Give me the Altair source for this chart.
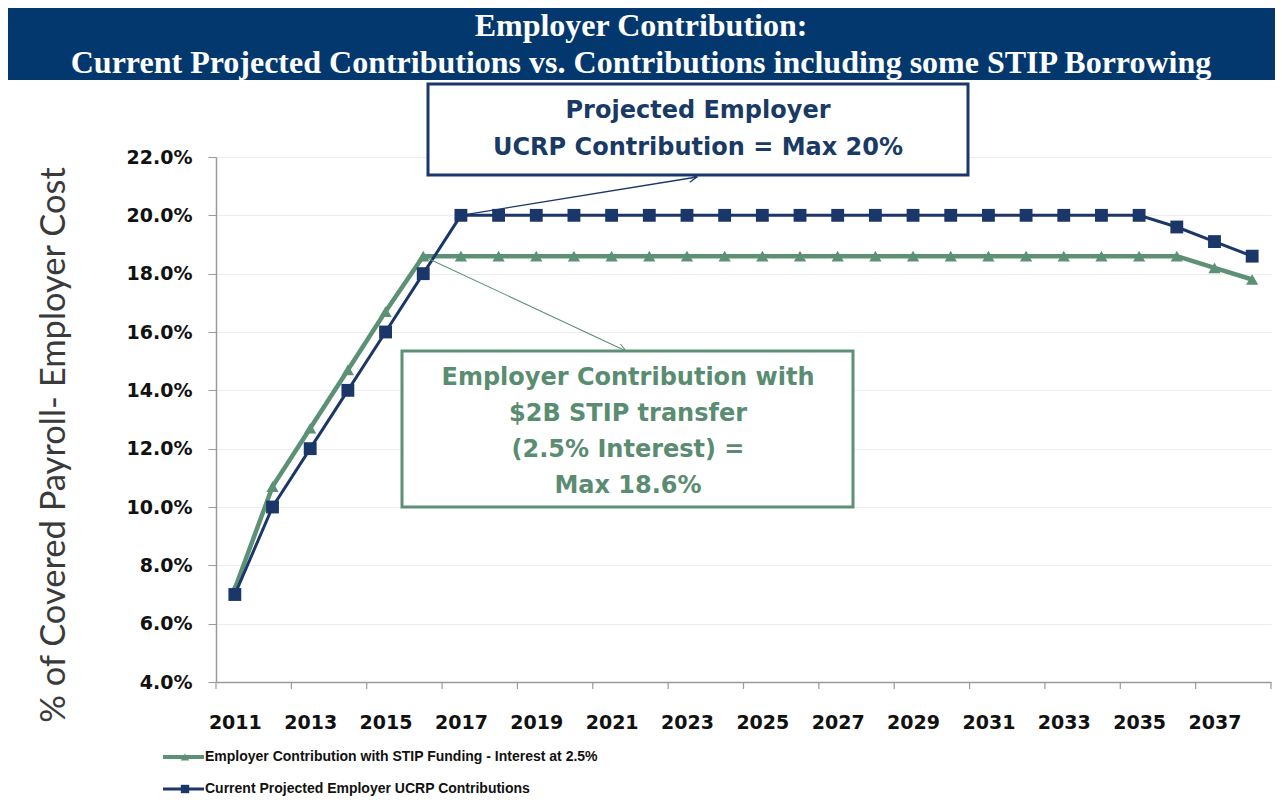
import altair as alt
import pandas as pd

# ---------------- data ----------------
years = [2011, 2012, 2013, 2014, 2015, 2016, 2017, 2018, 2019, 2020,
         2021, 2022, 2023, 2024, 2025, 2026, 2027, 2028, 2029, 2030,
         2031, 2032, 2033, 2034, 2035, 2036, 2037, 2038]
current_ucrp = [7.0, 10.0, 12.0, 14.0, 16.0, 18.0, 20.0, 20.0, 20.0, 20.0,
                20.0, 20.0, 20.0, 20.0, 20.0, 20.0, 20.0, 20.0, 20.0, 20.0,
                20.0, 20.0, 20.0, 20.0, 20.0, 19.6, 19.1, 18.6]
stip_funding = [7.2, 10.7, 12.7, 14.7, 16.7, 18.6, 18.6, 18.6, 18.6, 18.6,
                18.6, 18.6, 18.6, 18.6, 18.6, 18.6, 18.6, 18.6, 18.6, 18.6,
                18.6, 18.6, 18.6, 18.6, 18.6, 18.6, 18.2, 17.8]
x_label_years = [2011, 2013, 2015, 2017, 2019, 2021, 2023, 2025, 2027,
                 2029, 2031, 2033, 2035, 2037]
x_tick_marks = [2010.5, 2012.5, 2014.5, 2016.5, 2018.5, 2020.5, 2022.5,
                2024.5, 2026.5, 2028.5, 2030.5, 2032.5, 2034.5, 2036.5, 2038.5]
y_ticks = [4, 6, 8, 10, 12, 14, 16, 18, 20, 22]

series_current = "Current Projected Employer UCRP Contributions"
series_stip = "Employer Contribution with STIP Funding  - Interest at 2.5%"
title_lines = ["Employer Contribution:",
               "Current Projected Contributions vs. Contributions including some STIP Borrowing"]
box1_lines = ["Projected Employer", "UCRP Contribution = Max 20%"]
box2_lines = ["Employer Contribution with", "$2B STIP transfer",
              "(2.5% Interest) =", "Max 18.6%"]
y_title = "% of Covered Payroll- Employer Cost"

NAVY = "#1B3668"
GREEN = "#5C9176"
BANNER = "#03386E"

df_cur = pd.DataFrame({"year": years, "value": current_ucrp})
df_stip = pd.DataFrame({"year": years, "value": stip_funding})
df_ticks = pd.DataFrame({"t": x_tick_marks})
one = pd.DataFrame({"a": [0]})

W, H = 1055, 525

xscale = alt.Scale(domain=[2010.5, 2038.5], nice=False, zero=False)
yscale = alt.Scale(domain=[4, 22], nice=False, zero=False)
x_axis = alt.Axis(values=x_label_years, format="d", ticks=False, grid=False,
                  domainColor="#9A9A9A", domainWidth=1.5,
                  labelFont="DejaVu Sans", labelFontWeight="bold",
                  labelFontSize=19, labelColor="#111111", labelPadding=31,
                  labelFlush=False, title=None)
y_axis = alt.Axis(values=y_ticks, labelExpr="format(datum.value, '.1f') + '%'",
                  grid=True, gridColor="#EDEDED", gridWidth=1,
                  tickSize=8, tickColor="#9A9A9A", domainColor="#9A9A9A",
                  domainWidth=1.5,
                  labelFont="DejaVu Sans", labelFontWeight="bold",
                  labelFontSize=19, labelColor="#111111", labelPadding=16,
                  title=None)

X = alt.X("year:Q", scale=xscale, axis=x_axis)
Y = alt.Y("value:Q", scale=yscale, axis=y_axis)

layers = []

# x-axis tick marks (category boundaries)
layers.append(
    alt.Chart(df_ticks).mark_rule(color="#9A9A9A", strokeWidth=1.2).encode(
        x=alt.X("t:Q", scale=xscale, axis=x_axis),
        y=alt.value(H), y2=alt.value(H + 7))
)

# series
layers.append(alt.Chart(df_stip).mark_line(color=GREEN, strokeWidth=4.5).encode(x=X, y=Y))
layers.append(alt.Chart(df_stip).mark_point(shape="triangle-up", filled=True, color=GREEN,
                                            size=150, opacity=1).encode(x=X, y=Y))
layers.append(alt.Chart(df_cur).mark_line(color=NAVY, strokeWidth=3).encode(x=X, y=Y))
layers.append(alt.Chart(df_cur).mark_point(shape="square", filled=True, color=NAVY,
                                           size=165, opacity=1).encode(x=X, y=Y))

# banner
layers.append(alt.Chart(one).mark_rect(color=BANNER).encode(
    x=alt.value(-208), x2=alt.value(W + 4), y=alt.value(-149), y2=alt.value(-77)))
for txt, yy in zip(title_lines, [-121, -84]):
    layers.append(alt.Chart(one).mark_text(
        text=txt, font="Liberation Serif", fontWeight="bold", fontSize=32,
        color="white", align="center", baseline="alphabetic").encode(
        x=alt.value(425), y=alt.value(yy)))

# annotation arrows
arrow1_src = df_cur[df_cur.year == 2017]
arrow2_src = df_stip[df_stip.year == 2016]
layers.append(alt.Chart(arrow1_src).mark_rule(color=NAVY, strokeWidth=1.3).encode(
    x=X, y=Y, x2=alt.value(481), y2=alt.value(20)))
layers.append(alt.Chart(one).mark_point(
    shape="M-1.6,-0.8L0,0L-1.6,0.8", filled=False, color=NAVY, strokeWidth=1.3,
    size=100, angle=351, opacity=1).encode(x=alt.value(481), y=alt.value(20)))
layers.append(alt.Chart(arrow2_src).mark_rule(color=GREEN, strokeWidth=1.1).encode(
    x=X, y=Y, x2=alt.value(410), y2=alt.value(194)))
layers.append(alt.Chart(one).mark_point(
    shape="M-1.6,-0.8L0,0L-1.6,0.8", filled=False, color=GREEN, strokeWidth=1.1,
    size=100, angle=25, opacity=1).encode(x=alt.value(410), y=alt.value(194)))

# annotation box 1
layers.append(alt.Chart(one).mark_rect(fill="white", stroke=NAVY, strokeWidth=3).encode(
    x=alt.value(212), x2=alt.value(752), y=alt.value(-73), y2=alt.value(18)))
for txt, yy in zip(box1_lines, [-46, -9]):
    layers.append(alt.Chart(one).mark_text(
        text=txt, font="DejaVu Sans", fontWeight="bold", fontSize=24,
        color="#1A3A66", align="center", baseline="middle").encode(
        x=alt.value(482), y=alt.value(yy)))

# annotation box 2
layers.append(alt.Chart(one).mark_rect(fill="white", stroke=GREEN, strokeWidth=3).encode(
    x=alt.value(186), x2=alt.value(637), y=alt.value(194), y2=alt.value(350)))
for txt, yy in zip(box2_lines, [221, 257, 293, 329]):
    layers.append(alt.Chart(one).mark_text(
        text=txt, font="DejaVu Sans", fontWeight="bold", fontSize=24,
        color="#5A8C72", align="center", baseline="middle").encode(
        x=alt.value(412), y=alt.value(yy)))

# y-axis title
layers.append(alt.Chart(one).mark_text(
    text=y_title, font="Lato", fontSize=34.5, color="#3A3A3A", angle=270,
    align="center", baseline="middle").encode(x=alt.value(-161), y=alt.value(288)))

# legend
for name, color, shape, yy, sw in [(series_stip, GREEN, "triangle-up", 600, 4),
                                   (series_current, NAVY, "square", 632, 3)]:
    layers.append(alt.Chart(one).mark_rule(color=color, strokeWidth=sw).encode(
        x=alt.value(-53), x2=alt.value(-12), y=alt.value(yy)))
    layers.append(alt.Chart(one).mark_point(shape=shape, filled=True, color=color,
                                            size=70, opacity=1).encode(
        x=alt.value(-31), y=alt.value(yy)))
    layers.append(alt.Chart(one).mark_text(
        text=name, font="Liberation Sans", fontWeight="bold", fontSize=14,
        color="#111111", align="left", baseline="middle").encode(
        x=alt.value(-11), y=alt.value(yy)))

chart = alt.layer(*layers).properties(
    width=W, height=H,
    padding={"left": 208, "top": 149, "right": 4, "bottom": 114},
    autosize=alt.AutoSizeParams(type="none"),
    background="white",
).configure_view(stroke=None)

chart.save("out.html", embed_options={"renderer": "svg", "actions": False})
